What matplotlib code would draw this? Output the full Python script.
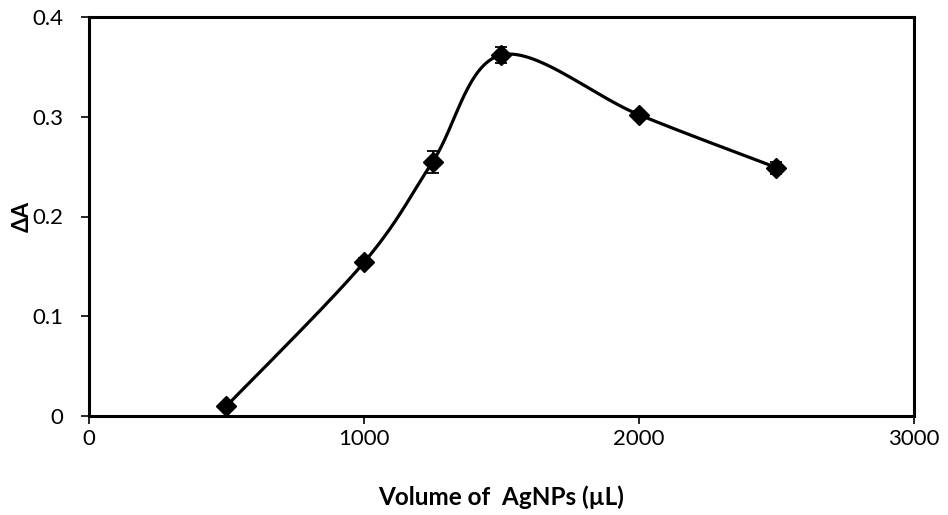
import numpy as np
import matplotlib
matplotlib.use("Agg")
import matplotlib.pyplot as plt

volume = [500, 1000, 1250, 1500, 2000, 2500]
delta_a = [0.010, 0.154, 0.255, 0.362, 0.302, 0.249]
err = [0.003, 0.004, 0.011, 0.008, 0.004, 0.006]
x_ticks = [0, 1000, 2000, 3000]
y_ticks = [0, 0.1, 0.2, 0.3, 0.4]
y_tick_labels = ["0", "0.1", "0.2", "0.3", "0.4"]

plt.rcParams['font.family'] = ['Lato', 'DejaVu Sans']

fig = plt.figure(figsize=(9.48, 5.15), dpi=100)
ax = fig.add_axes([89/948, 1-416/515, (914-89)/948, (416-17)/515])


def excel_smooth(xs, ys, n=60):
    # Bezier smoothing similar to spreadsheet smoothed lines
    xs = np.asarray(xs, float)
    ys = np.asarray(ys, float)
    sx = 3000.0
    sy = 0.4 * (416-17) / (914-89)
    px = xs / sx
    py = ys / sy
    P = np.column_stack([px, py])
    m = len(P)
    outx, outy = [], []
    for i in range(m - 1):
        p0 = P[i - 1] if i > 0 else P[i]
        p1 = P[i]
        p2 = P[i + 1]
        p3 = P[i + 2] if i + 2 < m else P[i + 1]
        c1 = p1 + (p2 - p0) / 6.0
        c2 = p2 - (p3 - p1) / 6.0
        t = np.linspace(0, 1, n)[:, None]
        b = ((1 - t) ** 3) * p1 + 3 * ((1 - t) ** 2) * t * c1 + 3 * (1 - t) * t ** 2 * c2 + t ** 3 * p2
        outx.extend(b[:, 0] * sx)
        outy.extend(b[:, 1] * sy)
    return np.array(outx), np.array(outy)


cx, cy = excel_smooth(volume, delta_a)
ax.plot(cx, cy, color='black', lw=2.3, solid_capstyle='round', zorder=2)
ax.errorbar(volume, delta_a, yerr=err, fmt='none', ecolor='black', elinewidth=1.3,
            capsize=4.5, capthick=1.3, zorder=3)
ax.plot(volume, delta_a, linestyle='none', marker='D', markersize=10,
        color='black', zorder=4, clip_on=False)

ax.set_xlim(0, 3000)
ax.set_ylim(0, 0.4)
ax.set_xticks(x_ticks)
ax.set_xticklabels([str(v) for v in x_ticks])
ax.set_yticks(y_ticks)
ax.set_yticklabels(y_tick_labels)
ax.tick_params(direction='out', length=5.5, width=1.2, labelsize=16)
ax.tick_params(axis='x', pad=4)
ax.tick_params(axis='y', pad=13)
for s in ax.spines.values():
    s.set_linewidth(2.2)
    s.set_color('black')

ax.set_xlabel("Volume of  AgNPs (µL)", fontsize=17.5, fontweight='bold', labelpad=26)
ax.set_ylabel("ΔA", fontsize=16, fontweight='bold', labelpad=0)

fig.savefig("out.png", dpi=100, facecolor='white')
